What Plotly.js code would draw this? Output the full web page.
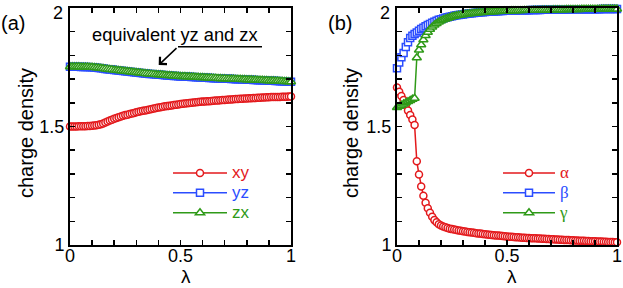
<!DOCTYPE html>
<html>
<head>
<meta charset="utf-8">
<script src="https://cdn.plot.ly/plotly-3.0.1.min.js"></script>
<style>html,body{margin:0;padding:0;background:#fff;}#chart{width:623px;height:288px;}</style>
</head>
<body>
<div id="chart"></div>
<script>
// lambda grid (step 0.01)
const lam = [0,0.01,0.02,0.03,0.04,0.05,0.06,0.07,0.08,0.09,
0.10,0.11,0.12,0.13,0.14,0.15,0.16,0.17,0.18,0.19,
0.20,0.21,0.22,0.23,0.24,0.25,0.26,0.27,0.28,0.29,
0.30,0.31,0.32,0.33,0.34,0.35,0.36,0.37,0.38,0.39,
0.40,0.41,0.42,0.43,0.44,0.45,0.46,0.47,0.48,0.49,
0.50,0.51,0.52,0.53,0.54,0.55,0.56,0.57,0.58,0.59,
0.60,0.61,0.62,0.63,0.64,0.65,0.66,0.67,0.68,0.69,
0.70,0.71,0.72,0.73,0.74,0.75,0.76,0.77,0.78,0.79,
0.80,0.81,0.82,0.83,0.84,0.85,0.86,0.87,0.88,0.89,
0.90,0.91,0.92,0.93,0.94,0.95,0.96,0.97,0.98,0.99,1.00];

// panel (a)
const xy = [1.500,1.500,1.500,1.500,1.501,1.501,1.501,1.501,1.502,1.502,
1.503,1.504,1.505,1.507,1.510,1.513,1.517,1.521,1.525,1.529,
1.533,1.536,1.539,1.542,1.545,1.548,1.550,1.553,1.555,1.557,
1.560,1.562,1.564,1.566,1.568,1.570,1.572,1.574,1.576,1.578,
1.580,1.581,1.583,1.585,1.586,1.588,1.589,1.591,1.592,1.593,
1.595,1.596,1.597,1.598,1.599,1.600,1.601,1.602,1.603,1.604,
1.605,1.606,1.607,1.607,1.608,1.609,1.610,1.610,1.611,1.612,
1.612,1.613,1.614,1.614,1.615,1.616,1.616,1.617,1.617,1.618,
1.618,1.619,1.619,1.620,1.620,1.621,1.621,1.622,1.622,1.623,
1.623,1.624,1.624,1.624,1.625,1.625,1.626,1.626,1.626,1.627,1.627];

const yz = [1.752,1.752,1.752,1.752,1.752,1.751,1.751,1.751,1.751,1.750,
1.750,1.749,1.748,1.747,1.746,1.745,1.743,1.742,1.741,1.740,
1.738,1.737,1.736,1.735,1.734,1.733,1.732,1.731,1.730,1.729,
1.728,1.727,1.726,1.725,1.724,1.723,1.722,1.721,1.720,1.719,
1.718,1.718,1.717,1.716,1.715,1.715,1.714,1.713,1.713,1.712,
1.711,1.711,1.711,1.710,1.710,1.709,1.709,1.708,1.708,1.707,
1.707,1.706,1.706,1.705,1.705,1.704,1.704,1.703,1.703,1.702,
1.702,1.701,1.701,1.700,1.700,1.699,1.699,1.699,1.698,1.698,
1.697,1.697,1.697,1.696,1.696,1.695,1.695,1.695,1.694,1.694,
1.693,1.693,1.693,1.692,1.692,1.691,1.691,1.690,1.690,1.689,1.689];

const zx = [1.752,1.752,1.752,1.752,1.752,1.751,1.751,1.751,1.751,1.750,
1.750,1.749,1.748,1.747,1.746,1.745,1.743,1.742,1.741,1.740,
1.738,1.737,1.736,1.735,1.734,1.733,1.732,1.731,1.730,1.729,
1.728,1.727,1.726,1.725,1.724,1.723,1.722,1.721,1.720,1.719,
1.718,1.718,1.717,1.716,1.715,1.715,1.714,1.713,1.713,1.712,
1.711,1.711,1.711,1.710,1.710,1.709,1.709,1.708,1.708,1.707,
1.707,1.706,1.706,1.705,1.705,1.704,1.704,1.703,1.703,1.702,
1.702,1.701,1.701,1.700,1.700,1.699,1.699,1.699,1.698,1.698,
1.697,1.697,1.697,1.696,1.696,1.695,1.695,1.695,1.694,1.694,
1.693,1.693,1.693,1.692,1.692,1.691,1.691,1.690,1.690,1.689,1.689];

// panel (b)
const alpha = [1.665,1.647,1.629,1.612,1.591,1.567,1.549,1.530,1.506,1.353,
1.297,1.247,1.208,1.178,1.155,1.136,1.119,1.105,1.096,1.088,
1.082,1.078,1.075,1.072,1.069,1.067,1.065,1.063,1.061,1.060,
1.058,1.057,1.055,1.054,1.053,1.052,1.050,1.049,1.048,1.046,
1.045,1.044,1.043,1.042,1.041,1.040,1.040,1.039,1.038,1.037,
1.036,1.035,1.035,1.034,1.033,1.033,1.032,1.031,1.031,1.030,
1.030,1.029,1.028,1.028,1.027,1.027,1.026,1.026,1.025,1.025,
1.024,1.024,1.023,1.023,1.022,1.022,1.021,1.021,1.021,1.020,
1.020,1.019,1.019,1.018,1.018,1.018,1.017,1.017,1.016,1.016,
1.016,1.015,1.015,1.015,1.014,1.014,1.013,1.013,1.013,1.012,1.012];

const beta = [1.746,1.770,1.792,1.810,1.835,1.856,1.873,1.883,1.890,1.897,
1.904,1.911,1.917,1.923,1.928,1.933,1.938,1.942,1.946,1.950,
1.953,1.956,1.959,1.961,1.963,1.965,1.967,1.969,1.970,1.972,
1.973,1.975,1.976,1.977,1.978,1.979,1.980,1.981,1.982,1.982,
1.983,1.984,1.984,1.985,1.985,1.986,1.986,1.987,1.987,1.988,
1.988,1.988,1.989,1.989,1.989,1.990,1.990,1.990,1.990,1.991,
1.991,1.992,1.992,1.992,1.992,1.992,1.993,1.993,1.993,1.993,
1.993,1.993,1.994,1.994,1.994,1.994,1.994,1.994,1.994,1.995,
1.995,1.995,1.995,1.995,1.995,1.995,1.995,1.995,1.995,1.995,
1.995,1.995,1.995,1.996,1.996,1.996,1.996,1.996,1.996,1.996,1.996];

const gamma = [1.580,1.585,1.590,1.595,1.600,1.605,1.610,1.615,1.619,1.790,
1.823,1.845,1.866,1.884,1.898,1.910,1.920,1.928,1.935,1.941,
1.946,1.950,1.954,1.957,1.960,1.963,1.965,1.967,1.969,1.971,
1.972,1.974,1.975,1.976,1.977,1.978,1.979,1.980,1.981,1.981,
1.982,1.983,1.983,1.984,1.984,1.985,1.985,1.986,1.986,1.987,
1.987,1.987,1.988,1.988,1.988,1.989,1.989,1.989,1.990,1.990,
1.990,1.990,1.991,1.991,1.991,1.991,1.992,1.992,1.992,1.992,
1.992,1.993,1.993,1.993,1.993,1.993,1.993,1.994,1.994,1.994,
1.994,1.994,1.994,1.994,1.995,1.995,1.995,1.995,1.995,1.995,
1.995,1.995,1.995,1.996,1.996,1.996,1.996,1.996,1.996,1.996,1.996];

const namesA = ['xy','yz','zx'];
const namesB = ['α','β','γ'];
const xTickVals = [0, 0.5, 1];
const xTickText = ['0', '0.5', '1'];
const yTickVals = [1, 1.5, 2];
const yTickText = ['1', '1.5', ''];   // top label "2" drawn as a text below
const yTopLabel = '2';

const RED = '#e3191c', BLUE = '#2b4dff', GREEN = '#2f9a18';

function tr(x, y, name, color, symbol, size, xa, ya, legend, serif) {
  const fam = serif ? 'font-family:Liberation Serif;' : '';
  return {
    x: x, y: y, type: 'scatter', mode: 'lines+markers',
    name: '<span style="' + fam + 'font-size:17px;fill:' + color + '">' + name + '</span>',
    line: {color: color, width: 1.5},
    marker: {symbol: symbol, size: size, color: 'white', line: {color: color, width: 1.5}},
    cliponaxis: false, xaxis: xa, yaxis: ya, legend: legend
  };
}

const data = [
  tr(lam, xy, namesA[0], RED, 'circle', 7, 'x', 'y', 'legend', false),
  tr(lam, yz, namesA[1], BLUE, 'square', 7, 'x', 'y', 'legend', false),
  tr(lam, zx, namesA[2], GREEN, 'triangle-up', 8, 'x', 'y', 'legend', false),
  tr(lam, alpha, namesB[0], RED, 'circle', 7, 'x2', 'y2', 'legend2', true),
  tr(lam, beta, namesB[1], BLUE, 'square', 7, 'x2', 'y2', 'legend2', true),
  tr(lam, gamma, namesB[2], GREEN, 'triangle-up', 8, 'x2', 'y2', 'legend2', true)
];

const axBase = {
  showline: true, linecolor: 'black', linewidth: 2, mirror: 'allticks',
  ticks: 'inside', ticklen: 5, tickwidth: 1.5, tickcolor: 'black',
  showgrid: false, zeroline: false, tickmode: 'array',
  minor: {tickmode: 'linear', tick0: 0, dtick: 0.1, ticks: 'inside', ticklen: 5, tickwidth: 1.5, tickcolor: 'black', showgrid: false},
  tickfont: {size: 18}, fixedrange: true, ticklabeloverflow: 'allow'
};
const xExtra = {ticklabelstandoff: -7, tickvals: xTickVals, ticktext: xTickText};
const yExtra = {tickvals: yTickVals, ticktext: yTickText};

const yDom = [43/288, 280/288];
const P = (px) => px / 623;
const Q = (py) => (288 - py) / 288;
const titleFont = {size: 19};

const layout = {
  width: 623, height: 288,
  margin: {l: 0, r: 0, t: 0, b: 0},
  paper_bgcolor: 'white', plot_bgcolor: 'white',
  font: {family: 'Liberation Sans, Arial, sans-serif', size: 17, color: 'black'},
  showlegend: true,
  xaxis: Object.assign({}, axBase, xExtra, {domain: [P(70), P(291)], range: [0, 1], anchor: 'y'}),
  yaxis: Object.assign({}, axBase, yExtra, {domain: yDom, range: [1, 2], anchor: 'x'}),
  xaxis2: Object.assign({}, axBase, xExtra, {domain: [P(397), P(617)], range: [0, 1], anchor: 'y2'}),
  yaxis2: Object.assign({}, axBase, yExtra, {domain: yDom, range: [1, 2], anchor: 'x2'}),
  legend: {x: P(168), y: Q(158), xanchor: 'left', yanchor: 'top', bgcolor: 'rgba(0,0,0,0)',
    borderwidth: 0, itemwidth: 54, font: {size: 13}, tracegroupgap: 0},
  legend2: {x: P(498), y: Q(158), xanchor: 'left', yanchor: 'top', bgcolor: 'rgba(0,0,0,0)',
    borderwidth: 0, itemwidth: 52, font: {size: 13}, tracegroupgap: 0},
  shapes: [
    {type: 'line', xref: 'paper', yref: 'paper', x0: P(178), x1: P(262),
     y0: Q(46.7), y1: Q(46.7), line: {color: 'black', width: 1.5}}
  ],
  annotations: [
    {text: '(a)', xref: 'paper', yref: 'paper', x: P(12.5), y: Q(23), showarrow: false,
     font: {size: 20}, xanchor: 'center', yanchor: 'middle'},
    {text: '(b)', xref: 'paper', yref: 'paper', x: P(340), y: Q(23), showarrow: false,
     font: {size: 20}, xanchor: 'center', yanchor: 'middle'},
    {text: 'equivalent yz and zx', xref: 'paper', yref: 'paper', x: P(174.5), y: Q(34),
     showarrow: false, font: {size: 18.3}, xanchor: 'center', yanchor: 'middle'},
    {text: '', xref: 'paper', yref: 'paper', x: P(158.7), y: Q(65), showarrow: true,
     ax: 19.3, ay: -18.3, arrowhead: 4, arrowsize: 1.3, arrowwidth: 1.5, arrowcolor: 'black'},
    // top y tick labels
    {text: yTopLabel, xref: 'paper', yref: 'paper', x: P(65), y: Q(13), showarrow: false,
     font: {size: 18}, xanchor: 'right', yanchor: 'middle'},
    {text: yTopLabel, xref: 'paper', yref: 'paper', x: P(392), y: Q(13), showarrow: false,
     font: {size: 18}, xanchor: 'right', yanchor: 'middle'},
    // axis titles
    {text: 'charge density', xref: 'paper', yref: 'paper', x: P(26), y: Q(133), textangle: -90,
     showarrow: false, font: {size: 20}, xanchor: 'center', yanchor: 'middle'},
    {text: 'charge density', xref: 'paper', yref: 'paper', x: P(351), y: Q(133), textangle: -90,
     showarrow: false, font: {size: 20}, xanchor: 'center', yanchor: 'middle'},
    {text: 'λ', xref: 'paper', yref: 'paper', x: P(186), y: Q(276),
     showarrow: false, font: titleFont, xanchor: 'center', yanchor: 'middle'},
    {text: 'λ', xref: 'paper', yref: 'paper', x: P(512), y: Q(276),
     showarrow: false, font: titleFont, xanchor: 'center', yanchor: 'middle'}
  ]
};

Plotly.newPlot('chart', data, layout, {staticPlot: true, displayModeBar: false});
</script>
</body>
</html>
